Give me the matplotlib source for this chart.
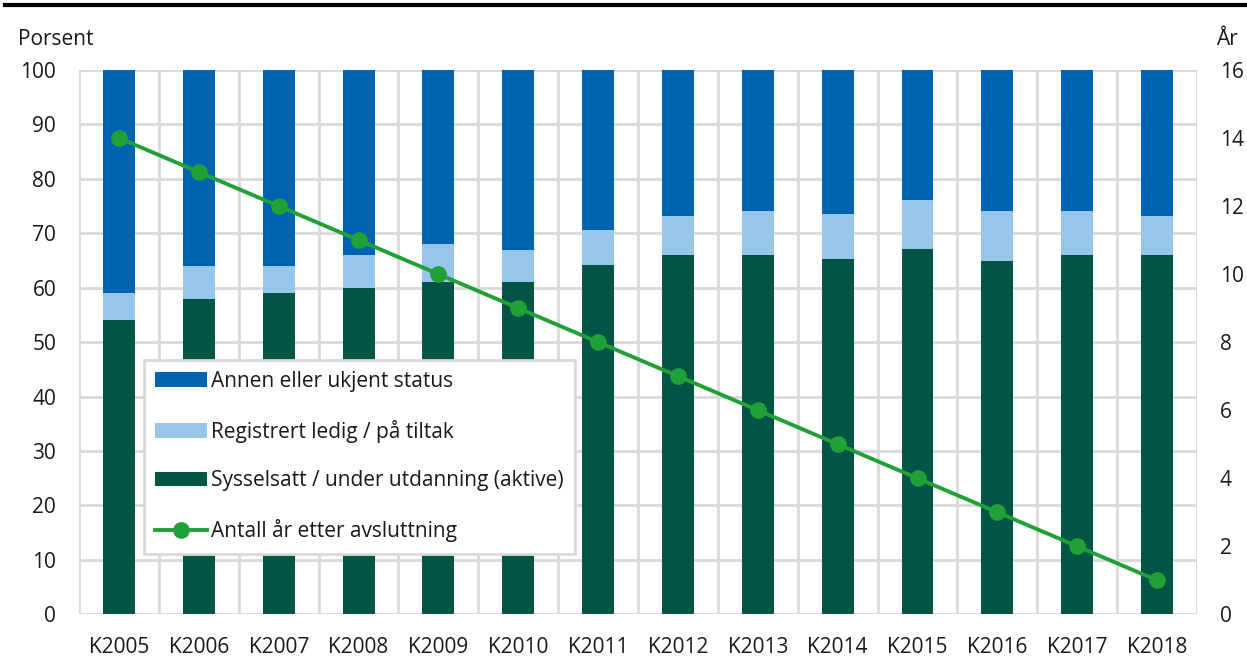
import numpy as np
import matplotlib.pyplot as plt
from matplotlib.lines import Line2D

plt.rcParams['font.family'] = ['Open Sans', 'DejaVu Sans']

# data
kull = ['K2005', 'K2006', 'K2007', 'K2008', 'K2009', 'K2010', 'K2011',
        'K2012', 'K2013', 'K2014', 'K2015', 'K2016', 'K2017', 'K2018']
aktive = [54, 58, 59, 60, 61, 61, 64.2, 66, 66, 65.3, 67.1, 64.9, 66, 66]
ledig = [5, 6, 5, 6, 7, 6, 6.4, 7.1, 8.1, 8.3, 9.0, 9.2, 8.1, 7.1]
annen = [100 - a - l for a, l in zip(aktive, ledig)]
aar_etter = [14, 13, 12, 11, 10, 9, 8, 7, 6, 5, 4, 3, 2, 1]

c_annen = '#0063AF'
c_ledig = '#97C6EA'
c_aktive = '#005545'
c_linje = '#21A038'
c_grid = '#D9D9D9'
c_text = '#1A1A1A'
fs = 15

fig = plt.figure(figsize=(12.47, 6.66), dpi=100)
ax1 = fig.add_axes([0.0634, 0.0776, 0.8965, 0.8173])
ax2 = ax1.twinx()

x = np.arange(len(kull))
w = 0.4
b1 = ax1.bar(x, aktive, w, color=c_aktive, zorder=2,
             label='Sysselsatt / under utdanning (aktive)')
b2 = ax1.bar(x, ledig, w, bottom=aktive, color=c_ledig, zorder=2,
             label='Registrert ledig / på tiltak')
bottom2 = [a + l for a, l in zip(aktive, ledig)]
b3 = ax1.bar(x, annen, w, bottom=bottom2, color=c_annen, zorder=2,
             label='Annen eller ukjent status')

l1, = ax2.plot(x, aar_etter, color=c_linje, lw=2.8, marker='o', ms=11,
               label='Antall år etter avsluttning', zorder=3)

ax1.set_xlim(-0.5, len(kull) - 0.5)
ax1.set_ylim(0, 100)
ax1.set_yticks(np.arange(0, 101, 10))
ax2.set_ylim(0, 16)
ax2.set_yticks(np.arange(0, 17, 2))

ax1.set_xticks(x)
ax1.set_xticklabels(kull)
ax1.set_xticks(np.arange(-0.5, len(kull), 1), minor=True)
ax1.grid(True, which='minor', axis='x', color=c_grid, lw=2, zorder=0)
ax1.grid(True, which='major', axis='y', color=c_grid, lw=2, zorder=0)
ax1.set_axisbelow(True)

for ax in (ax1, ax2):
    for s in ax.spines.values():
        s.set_visible(False)
    ax.tick_params(which='both', length=0, labelsize=fs, colors=c_text)
ax1.tick_params(axis='y', pad=16.5)
ax1.tick_params(axis='x', pad=16)
ax2.tick_params(axis='y', pad=16.5)

leg = ax2.legend(handles=[b3, b2, b1, l1],
                 labels=['Annen eller ukjent status', 'Registrert ledig / på tiltak',
                         'Sysselsatt / under utdanning (aktive)',
                         'Antall år etter avsluttning'],
                 loc='upper left', bbox_to_anchor=(0.058, 0.468),
                 borderaxespad=0, fontsize=fs, frameon=True, fancybox=False,
                 framealpha=1, handlelength=2.5, handleheight=0.7,
                 handletextpad=0.15, labelspacing=1.33, borderpad=0.55)
leg.get_frame().set_edgecolor(c_grid)
leg.get_frame().set_linewidth(2)
for t in leg.get_texts():
    t.set_color(c_text)

fig.text(0.0144, 0.941, 'Porsent', fontsize=fs, color=c_text, va='center', ha='left')
fig.text(0.975, 0.941, 'År', fontsize=fs, color=c_text, va='center', ha='left')

fig.add_artist(Line2D([0.004, 1.0], [0.9925, 0.9925], color='black', lw=3,
                      transform=fig.transFigure))

fig.savefig('out.png', dpi=100)
